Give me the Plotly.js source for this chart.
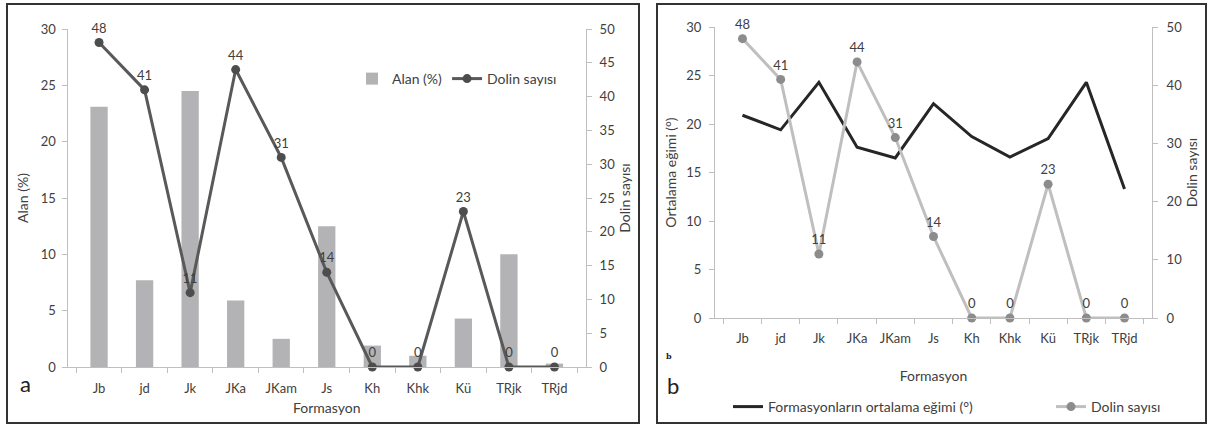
<!DOCTYPE html>
<html>
<head>
<meta charset="utf-8">
<script src="https://cdn.plot.ly/plotly-3.0.1.min.js"></script>
<style>html,body{margin:0;padding:0;background:#fff;}#chart{width:1210px;height:428px;}</style>
</head>
<body>
<div id="chart"></div>
<script>
// ---- data ----
const categories = ['Jb','jd','Jk','JKa','JKam','Js','Kh','Khk','Kü','TRjk','TRjd'];
const alanPct = [23.1, 7.7, 24.5, 5.9, 2.5, 12.5, 1.9, 1.0, 4.3, 10.0, 0.3];
const dolinCount = [48, 41, 11, 44, 31, 14, 0, 0, 23, 0, 0];
const meanSlope = [20.9, 19.4, 24.3, 17.6, 16.5, 22.1, 18.7, 16.6, 18.5, 24.3, 13.3];
const dolinLabels = dolinCount.map(String);

const W = 1210, H = 428;
const px = v => v / W;
const py = v => 1 - v / H;

const FONT = 'Lato, "Open Sans", sans-serif';
const TXT = '#404040';
const AXC = '#bfbfbf';

const traces = [
  {type:'bar', x:categories, y:alanPct, name:'Alan (%)', xaxis:'x', yaxis:'y',
   marker:{color:'#b3b3b5'}, width:0.38, legend:'legend', hoverinfo:'x+y'},
  {type:'scatter', mode:'lines+markers+text', x:categories, y:dolinCount, name:'Dolin sayısı',
   xaxis:'x', yaxis:'y2', line:{color:'#595959', width:3}, marker:{color:'#4d4d4d', size:9},
   text:dolinLabels, textposition:'top center', textfont:{size:13, color:TXT, family:FONT},
   legend:'legend', cliponaxis:false},
  {type:'scatter', mode:'lines', x:categories, y:meanSlope, name:'Formasyonların ortalama eğimi (°)',
   xaxis:'x2', yaxis:'y3', line:{color:'#262626', width:3}, legend:'legend2'},
  {type:'scatter', mode:'lines+markers+text', x:categories, y:dolinCount, name:'Dolin sayısı',
   xaxis:'x2', yaxis:'y4', line:{color:'#bfbfbf', width:3}, marker:{color:'#8c8c8c', size:9},
   text:dolinLabels, textposition:'top center', textfont:{size:13, color:TXT, family:FONT},
   legend:'legend2', cliponaxis:false}
];

const axBase = {
  showgrid:false, zeroline:false, showline:true, linecolor:AXC, linewidth:1,
  ticks:'outside', ticklen:5, tickcolor:AXC, tickfont:{size:13, color:TXT, family:FONT},
  fixedrange:true, automargin:false
};

const layout = {
  width:W, height:H, margin:{l:0, r:0, t:0, b:0, autoexpand:false},
  paper_bgcolor:'#fff', plot_bgcolor:'rgba(0,0,0,0)',
  font:{family:FONT, color:TXT, size:13},
  showlegend:true,
  bargap:0.62,
  xaxis: Object.assign({}, axBase, {
    domain:[px(67.5), px(586)], anchor:'y', type:'category',
    categoryorder:'array', categoryarray:categories, tickson:'boundaries',
    ticklabelstandoff:9, tickangle:0,
    title:{text:'Formasyon', font:{size:14, color:TXT, family:FONT}, standoff:8}
  }),
  yaxis: Object.assign({}, axBase, {
    domain:[py(367), py(29)], anchor:'x', range:[0,30], dtick:5,
    ticklabelstandoff:3,
    title:{text:'Alan (%)', font:{size:14, color:TXT, family:FONT}, standoff:8}
  }),
  yaxis2: Object.assign({}, axBase, {
    overlaying:'y', side:'right', anchor:'x', range:[0,50], dtick:5,
    ticklabelstandoff:5,
    title:{text:'Dolin sayısı', font:{size:14, color:TXT, family:FONT}, standoff:6}
  }),
  xaxis2: Object.assign({}, axBase, {
    domain:[px(715), px(1152)], anchor:'y3', type:'category',
    categoryorder:'array', categoryarray:categories, tickson:'boundaries',
    ticklabelstandoff:8, tickangle:0,
    title:{text:'Formasyon', font:{size:14, color:TXT, family:FONT}, standoff:26}
  }),
  yaxis3: Object.assign({}, axBase, {
    domain:[py(318), py(27)], anchor:'x2', range:[0,30], dtick:5,
    ticklabelstandoff:5,
    title:{text:'Ortalama eğimi (°)', font:{size:14, color:TXT, family:FONT}, standoff:6}
  }),
  yaxis4: Object.assign({}, axBase, {
    overlaying:'y3', side:'right', anchor:'x2', range:[0,50], dtick:10,
    ticklabelstandoff:6,
    title:{text:'Dolin sayısı', font:{size:14, color:TXT, family:FONT}, standoff:6}
  }),
  legend:{
    orientation:'h', x:px(352), y:py(79), xanchor:'left', yanchor:'middle',
    bgcolor:'rgba(0,0,0,0)', font:{size:14, color:TXT, family:FONT},
    itemwidth:30
  },
  legend2:{
    orientation:'h', x:px(728), y:py(407), xanchor:'left', yanchor:'middle',
    bgcolor:'rgba(0,0,0,0)', font:{size:14, color:TXT, family:FONT},
    entrywidth:278, entrywidthmode:'pixels', itemwidth:30
  },
  shapes:[
    {type:'rect', xref:'paper', yref:'paper', x0:px(7), x1:px(639), y0:py(423), y1:py(4),
     line:{color:'#333333', width:2}},
    {type:'rect', xref:'paper', yref:'paper', x0:px(657), x1:px(1206), y0:py(423), y1:py(4),
     line:{color:'#333333', width:2}}
  ],
  annotations:[
    {text:'a', xref:'paper', yref:'paper', x:px(25), y:py(383), showarrow:false,
     xanchor:'center', yanchor:'middle', font:{size:22, color:'#222', family:FONT}},
    {text:'b', xref:'paper', yref:'paper', x:px(673), y:py(385), showarrow:false,
     xanchor:'center', yanchor:'middle', font:{size:22, color:'#222', family:FONT}},
    {text:'<b>b</b>', xref:'paper', yref:'paper', x:px(669), y:py(356), showarrow:false,
     xanchor:'center', yanchor:'middle', font:{size:8, color:'#222', family:'DejaVu Serif, serif'}}
  ]
};

Plotly.newPlot('chart', traces, layout, {displayModeBar:false, staticPlot:true});
</script>
</body>
</html>
